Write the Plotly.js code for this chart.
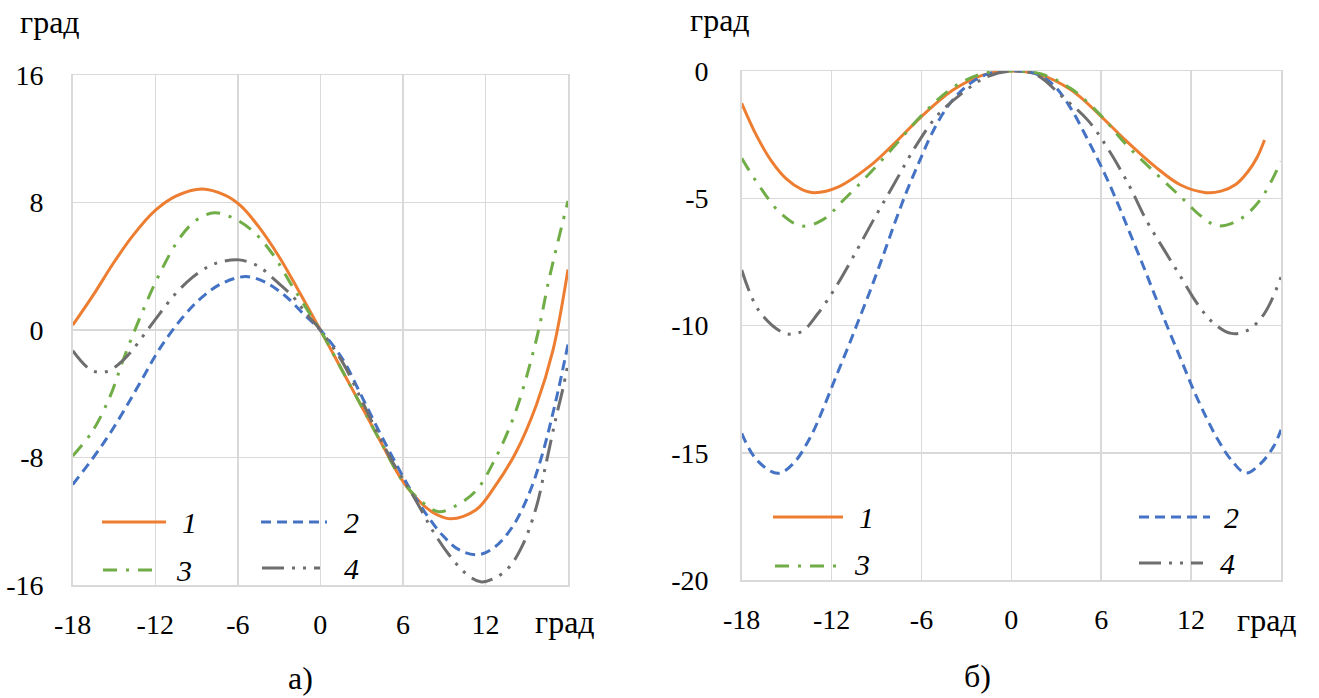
<!DOCTYPE html>
<html>
<head>
<meta charset="utf-8">
<script src="https://cdn.plot.ly/plotly-3.0.1.min.js"></script>
<style>
  html, body { margin: 0; padding: 0; background: #fff; }
  #chart { width: 1319px; height: 698px; }
</style>
</head>
<body>
<div id="chart"></div>
<script>
// Panel а): angle curves 1–4 versus angle, град
const a1X = [-18, -16.5, -15, -13.6, -12, -10.5, -8.6, -6.9, -5.8, -4.5, -3, -1.6, 0, 1.5, 3, 4.5, 6, 7.5, 8.5, 9.5, 11.3, 12.7, 14.2, 15.7, 16.9, 18];
const a1Y = [0.3, 2.2, 4.25, 5.95, 7.5, 8.4, 8.85, 8.45, 7.8, 6.5, 4.6, 2.5, 0, -2.4, -4.8, -7.2, -9.5, -11.0, -11.6, -11.85, -11.3, -9.8, -7.7, -4.7, -1.3, 3.8];

const a2X = [-18, -16.5, -15.3, -14.1, -12.9, -11.7, -10, -8.55, -7.1, -5.4, -4, -2.5, -1.1, 0, 1.6, 2.8, 4, 5.2, 6.4, 7.65, 8.9, 10.1, 11.5, 12.7, 14, 15.2, 16.1, 17.1, 18];
const a2Y = [-9.7, -8.0, -6.5, -4.8, -3.0, -1.2, 0.8, 2.1, 2.95, 3.35, 3.0, 2.1, 0.9, 0, -1.8, -3.8, -5.9, -7.9, -9.8, -11.5, -12.9, -13.8, -14.1, -13.6, -12.3, -10.2, -7.9, -4.5, -0.9];

const a3X = [-18, -16.6, -15.3, -14.3, -13, -11.7, -10.2, -9, -7.7, -6.4, -4.9, -3.5, -2, -0.6, 0, 1.5, 3, 4.5, 6, 7.4, 8.6, 9.8, 11.3, 12.7, 14.2, 15.7, 16.6, 17.2, 18];
const a3Y = [-7.9, -6.4, -4.2, -1.8, 1.0, 3.5, 5.8, 6.9, 7.35, 7.05, 6.2, 4.8, 2.7, 0.8, 0, -2.4, -4.8, -7.2, -9.5, -10.8, -11.4, -11.05, -10.1, -8.1, -5.1, -0.6, 3.1, 5.3, 8.1];

const a4X = [-18, -16.6, -15.5, -14.6, -13.7, -12.65, -11.7, -10.5, -9.3, -8.1, -7.1, -5.9, -4.5, -3.25, -2, -1, 0, 1.6, 3, 4, 5.2, 6.4, 7.4, 8.1, 9.35, 10.6, 11.65, 12.6, 13.7, 14.7, 15.7, 16.4, 17.1, 17.65, 18];
const a4Y = [-1.3, -2.55, -2.6, -2.1, -1.3, -0.1, 1.0, 2.3, 3.3, 4.0, 4.3, 4.4, 4.0, 3.1, 2.1, 1.0, 0, -2.0, -4.4, -6.2, -8.2, -9.9, -11.4, -12.5, -14.1, -15.3, -15.8, -15.6, -14.9, -13.5, -11.1, -8.4, -5.6, -3.6, -2.1];

// Panel б)
const b1X = [-18, -17, -16, -15, -14, -13.15, -11.5, -9.5, -7.8, -6, -3.9, -1.9, 0, 2, 4, 5.9, 7.6, 9.6, 11.3, 13, 14, 15, 15.8, 16.4, 16.9];
const b1Y = [-1.27, -2.55, -3.55, -4.25, -4.65, -4.78, -4.54, -3.76, -2.84, -1.79, -0.75, -0.16, 0, -0.16, -0.75, -1.73, -2.71, -3.76, -4.48, -4.78, -4.72, -4.45, -3.95, -3.4, -2.71];

const b2X = [-18, -17, -15.6, -14.55, -13.4, -12.6, -11.7, -10.9, -10.3, -9.5, -8.65, -7.8, -7, -6.1, -5.3, -4.2, -3, -1.6, 0, 1.7, 2.9, 4, 5.1, 6.2, 7.1, 7.9, 8.8, 9.6, 10.45, 11.3, 12.1, 13, 13.8, 14.7, 15.65, 16.6, 17.5, 18];
const b2Y = [-14.24, -15.28, -15.81, -15.42, -14.37, -13.32, -12.0, -10.85, -9.95, -8.75, -7.4, -6.0, -4.75, -3.5, -2.45, -1.35, -0.6, -0.12, 0, -0.12, -0.6, -1.5, -2.7, -4.0, -5.2, -6.35, -7.65, -8.85, -10.1, -11.3, -12.45, -13.6, -14.5, -15.3, -15.8, -15.45, -14.76, -14.1];

const b3X = [-18, -16.8, -15.4, -14, -12.6, -11.2, -9.5, -7.8, -6, -3.9, -1.9, 0, 2, 4, 5.9, 7.6, 9.6, 11.3, 12.7, 13.8, 15.2, 16.6, 18];
const b3Y = [-3.43, -4.54, -5.59, -6.09, -5.85, -5.07, -4.05, -2.95, -1.75, -0.65, -0.1, 0, -0.12, -0.7, -1.7, -2.85, -4.0, -4.94, -5.72, -6.09, -5.85, -5.07, -3.55];

const b4X = [-18, -16.8, -15.1, -14, -12.9, -11.7, -10.3, -9.2, -7.8, -6.4, -5, -3.3, -1.6, 0, 1.7, 3.4, 5.1, 6.5, 7.9, 9, 10.2, 11.3, 12.4, 13.5, 14.7, 15.8, 16.9, 18];
const b4Y = [-7.82, -9.46, -10.31, -10.24, -9.52, -8.47, -7.03, -5.85, -4.41, -2.97, -1.79, -0.88, -0.22, 0, -0.16, -1.01, -1.93, -3.1, -4.54, -5.85, -7.03, -8.08, -9.13, -9.91, -10.31, -10.18, -9.52, -8.1];

// Axis ticks and labels
const xTicks = [-18, -12, -6, 0, 6, 12];
const aYTicks = [-16, -8, 0, 8, 16];
const bYTicks = [-20, -15, -10, -5, 0];
const unitLabel = 'град';
const panelLabels = ['а)', 'б)'];

// Line styles per series
const styles = {
  '1': { color: '#ED7D31', dash: 'solid', width: 3 },
  '2': { color: '#4472C4', dash: '10px,6px', width: 3 },
  '3': { color: '#70AD47', dash: '14px,9px,3px,9px', width: 3 },
  '4': { color: '#6E6E6E', dash: '22px,8px,3px,8px,3px,8px', width: 3 }
};

const W = 1319, H = 698;
const px = v => v / W;
const py = v => 1 - v / H;
const FONT = 'Liberation Serif';

function curve(x, y, name, xa, ya) {
  const s = styles[name];
  return {
    type: 'scatter', mode: 'lines', x: x, y: y, name: name,
    xaxis: xa, yaxis: ya, showlegend: false, hoverinfo: 'skip',
    line: { color: s.color, dash: s.dash, width: s.width, shape: 'spline', smoothing: 1 }
  };
}

const traces = [
  curve(a1X, a1Y, '1', 'x', 'y'),
  curve(a2X, a2Y, '2', 'x', 'y'),
  curve(a3X, a3Y, '3', 'x', 'y'),
  curve(a4X, a4Y, '4', 'x', 'y'),
  curve(b1X, b1Y, '1', 'x2', 'y2'),
  curve(b2X, b2Y, '2', 'x2', 'y2'),
  curve(b3X, b3Y, '3', 'x2', 'y2'),
  curve(b4X, b4Y, '4', 'x2', 'y2')
];

const axisBase = {
  showgrid: true, gridcolor: '#d9d9d9', gridwidth: 1.5,
  zeroline: false, showline: true, mirror: true,
  linecolor: '#d9d9d9', linewidth: 1.5, ticks: '',
  tickfont: { family: FONT, size: 28, color: '#000' },
  fixedrange: true
};

// Hand-placed legend keys: [series, sampleX0, sampleX1, sampleY, labelX, labelY]
const legendA = [
  ['1', 102, 166, 522, 189, 522],
  ['2', 261, 327, 522, 351, 522],
  ['3', 103, 160, 570, 184, 570],
  ['4', 262, 320, 568, 351, 568]
];
const legendB = [
  ['1', 773, 843, 517, 866, 517],
  ['2', 1139, 1210, 517, 1231, 517],
  ['3', 775, 836, 566, 862, 564],
  ['4', 1139, 1203, 563, 1227, 563]
];

const shapes = [];
const annotations = [];
[legendA, legendB].forEach(list => list.forEach(([n, x0, x1, y, lx, ly]) => {
  const s = styles[n];
  shapes.push({
    type: 'line', xref: 'paper', yref: 'paper',
    x0: px(x0), x1: px(x1), y0: py(y), y1: py(y),
    line: { color: s.color, width: s.width, dash: s.dash }
  });
  annotations.push({
    xref: 'paper', yref: 'paper', x: px(lx), y: py(ly),
    xanchor: 'center', yanchor: 'middle', showarrow: false,
    text: '<i>' + n + '</i>', font: { family: FONT, size: 30, color: '#000' }
  });
}));

function label(text, x, y, size) {
  annotations.push({
    xref: 'paper', yref: 'paper', x: px(x), y: py(y),
    xanchor: 'center', yanchor: 'middle', showarrow: false,
    text: text, font: { family: FONT, size: size, color: '#000' }
  });
}
label(unitLabel, 50, 22, 32);
label(unitLabel, 720, 20, 32);
label(unitLabel, 565, 622, 32);
label(unitLabel, 1267, 620, 32);
label(panelLabels[0], 300, 678, 32);
label(panelLabels[1], 978, 676, 32);

const layout = {
  width: W, height: H,
  margin: { l: 0, r: 0, t: 0, b: 0 },
  paper_bgcolor: '#fff', plot_bgcolor: '#fff',
  showlegend: false,
  font: { family: FONT },
  xaxis: Object.assign({}, axisBase, {
    domain: [px(72.7), px(568)], range: [-18, 18],
    tickvals: xTicks, ticktext: xTicks.map(String), ticklabelstandoff: 14,
    anchor: 'y'
  }),
  yaxis: Object.assign({}, axisBase, {
    domain: [py(585), py(75)], range: [-16, 16],
    tickvals: aYTicks, ticktext: aYTicks.map(String), ticklabelstandoff: 22,
    anchor: 'x'
  }),
  xaxis2: Object.assign({}, axisBase, {
    domain: [px(741.7), px(1281)], range: [-18, 18],
    tickvals: xTicks, ticktext: xTicks.map(String), ticklabelstandoff: 14,
    anchor: 'y2'
  }),
  yaxis2: Object.assign({}, axisBase, {
    domain: [py(580), py(71)], range: [-20, 0],
    tickvals: bYTicks, ticktext: bYTicks.map(String), ticklabelstandoff: 26,
    anchor: 'x2'
  }),
  shapes: shapes,
  annotations: annotations
};

Plotly.newPlot('chart', traces, layout, { staticPlot: true, displayModeBar: false });
</script>
</body>
</html>
